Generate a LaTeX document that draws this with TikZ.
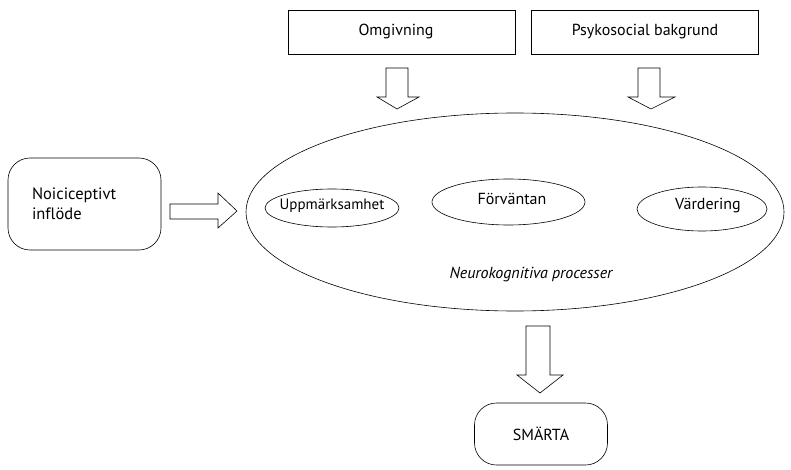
\documentclass[tikz,border=0pt]{standalone}
\usepackage{fontspec}
\setmainfont{PT Sans}[Ligatures={NoCommon}]
\usetikzlibrary{shapes.geometric}
\begin{document}
\begin{tikzpicture}[x=1pt,y=-1pt,line width=0.6pt,
  txt/.style={font=\fontsize{16}{20}\selectfont},
  sqbox/.style={draw, rectangle, minimum width=227pt, minimum height=44pt, inner sep=0pt, txt},
  rbox/.style={draw, rectangle, rounded corners=22pt, inner sep=0pt, txt},
  ell/.style={draw, ellipse, inner sep=0pt, txt},
  blockarrow/.style={draw, fill=white, line join=miter}]
\useasboundingbox (0,0) rectangle (791,470);
% top boxes
\node[sqbox] (omg) at (401.5,32) {};
\node[txt] (omglbl) at (396,32) {Omgivning};
\node[sqbox] (psy) at (645,32) {Psykosocial bakgrund};
% big ellipse
\node[ell, minimum width=538pt, minimum height=198pt] (neuro) at (515,212) {};
\node[font=\itshape\fontsize{16}{18}\selectfont] (neurolbl) at (531,275) {Neurokognitiva processer};
% small ellipses
\node[ell, minimum width=134pt, minimum height=38pt] (upp) at (332,208) {};
\node[font=\fontsize{15}{18}\selectfont] (upplbl) at (332,206) {Uppmärksamhet};
\node[ell, minimum width=153pt, minimum height=46pt] (forv) at (508.5,202) {};
\node[txt] (forvlbl) at (512,199) {Förväntan};
\node[ell, minimum width=130pt, minimum height=44pt] (vard) at (702,209) {};
\node[txt] (vardlbl) at (708,206) {Värdering};
% left box
\node[rbox, minimum width=153pt, minimum height=92pt, text width=105pt, align=left, font=\fontsize{16.5}{20}\selectfont] (noi) at (84.5,204) {Noiciceptivt\\inflöde};
% bottom box
\node[rbox, minimum width=133pt, minimum height=62pt] (smarta) at (541,434) {SMÄRTA};
% block arrows
\draw[blockarrow] (386,68) -- (408,68) -- (408,97) -- (419,97) -- (397,109) -- (377,97) -- (386,97) -- cycle;
\draw[blockarrow] (638,68) -- (660,68) -- (660,97) -- (675,97) -- (651,109) -- (628,97) -- (638,97) -- cycle;
\draw[blockarrow] (170,204) -- (218,204) -- (218,193) -- (237,211) -- (218,228) -- (218,219) -- (170,219) -- cycle;
\draw[blockarrow] (526,326) -- (550,326) -- (550,375) -- (563,375) -- (540,393) -- (517,375) -- (526,375) -- cycle;
\end{tikzpicture}
\end{document}
